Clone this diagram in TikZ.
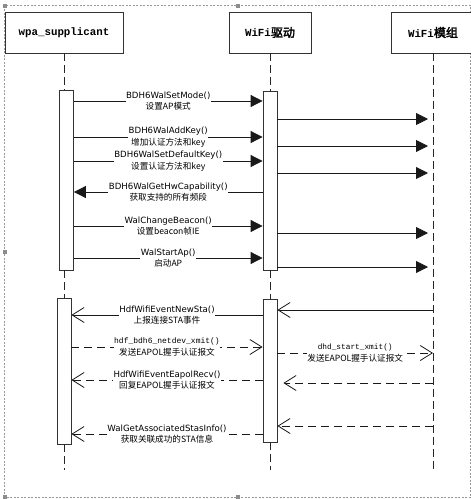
\documentclass[tikz,border=0pt]{standalone}
\usepackage{fontspec}
\setsansfont{DejaVu Sans}
\setmonofont{Liberation Mono}
\newfontfamily\cjk[AutoFakeBold=2.5]{Noto Sans CJK SC}
\usetikzlibrary{arrows.meta}

\begin{document}
\begin{tikzpicture}[x=1pt, y=-1pt,
  head/.style={draw=black!80, fill=white, line width=0.8pt, minimum height=41pt, inner sep=0pt,
    font=\fontsize{10.8}{12}\selectfont},
  act/.style={draw=black!80, fill=white, line width=0.8pt, minimum width=14pt, inner sep=0pt},
  life/.style={black!85, line width=0.9pt, dash pattern=on 8pt off 4pt},
  msg/.style={black!90, line width=0.8pt, -{Triangle[length=12pt,width=12pt]}},
  reply/.style={black!90, line width=0.8pt, -{Straight Barb[length=12pt,width=15pt]}},
  dash line/.style={dash pattern=on 8pt off 5pt},
  lbl/.style={fill=white, inner sep=0.5pt, align=center, text=black,
    font=\sffamily\fontsize{8.6}{11.5}\selectfont}]
\useasboundingbox (0,0) rectangle (471,499);
% Draw the frame round the diagram
\draw[black!40, line width=0.6pt, dash pattern=on 2pt off 1.5pt] (4.5,5.5) rectangle (470.5,497);
\foreach \x/\y in {5/5.5, 238/5.5, 5/252, 5/497, 238/497}
  \fill[black!45] (\x,\y) +(-2,-2) rectangle +(2,2);

% Draw the heads
\node[head, minimum width=118pt] (wpa) at (64,32.5) {\ttfamily\bfseries wpa\_supplicant};
\node[head, minimum width=82pt] (drv) at (270,32.5) {\ttfamily\bfseries WiFi{\cjk\bfseries\fontsize{12}{12}\selectfont 驱动}};
\node[head, minimum width=84pt] (mod) at (433,32.5) {\ttfamily\bfseries WiFi{\cjk\bfseries\fontsize{12}{12}\selectfont 模组}};

% Draw the activation boxes
\node[act, minimum height=180pt] (wa) at (66.5,180) {};
\node[act, minimum height=146pt] (wb) at (64,371) {};
\node[act, minimum height=179pt] (da) at (270,180.5) {};
\node[act, minimum height=143pt] (db) at (270,370.5) {};
\coordinate (wEnd) at (64,470);
\coordinate (dEnd) at (270,470);
\coordinate (mEnd) at (433,470);

% Draw the lifelines
\draw[life] (wpa.south) -- (wpa.south |- wa.north) (wa.south -| wb.north) -- (wb.north)
  (wb.south) -- (wEnd);
\draw[life] (drv.south) -- (da.north) (da.south) -- (db.north) (db.south) -- (dEnd);
\draw[life] (mod.south) -- (mEnd);

% Calls from wpa_supplicant to the driver
\foreach \y/\txt/\cn in {101/BDH6WalSetMode()/设置AP模式,
    137/BDH6WalAddKey()/增加认证方法和key,
    161/BDH6WalSetDefaultKey()/设置认证方法和key,
    226/WalChangeBeacon()/设置beacon帧IE,
    258/WalStartAp()/启动AP}
  \draw[msg] (wa.east |- 0,\y) -- node[lbl]{\txt\\{\cjk \cn}} (da.west |- 0,\y);
\draw[msg] (da.west |- 0,192) -- node[lbl]{BDH6WalGetHwCapability()\\{\cjk 获取支持的所有频段}}
  (wa.east |- 0,192);

% The driver passes each call on to the module
\foreach \y in {119,146,173,233,267}
  \draw[msg] (da.east |- 0,\y) -- ([xshift=-5pt]mEnd |- 0,\y);

% Events back from the module
\draw[reply] (mEnd |- 0,310) -- (db.east |- 0,310);
\draw[reply] (db.west |- 0,315) -- node[lbl]{HdfWifiEventNewSta()\\{\cjk 上报连接STA事件}}
  (wb.east |- 0,315);
\draw[reply, dash line] (wb.east |- 0,347) --
  node[lbl]{{\ttfamily\fontsize{8}{10}\selectfont hdf\_bdh6\_netdev\_xmit()}\\{\cjk 发送EAPOL握手认证报文}}
  (db.west |- 0,347);
\draw[reply, dash line] (db.east |- 0,353) --
  node[lbl]{{\ttfamily\fontsize{7.8}{10}\selectfont dhd\_start\_xmit()}\\{\cjk 发送EAPOL握手认证报文}}
  (mEnd |- 0,353);
\draw[reply, dash line] (db.west |- 0,380) --
  node[lbl]{HdfWifiEventEapolRecv()\\{\cjk 回复EAPOL握手认证报文}} (wb.east |- 0,380);
\draw[reply, dash line] (mEnd |- 0,383) -- ([xshift=6pt]db.east |- 0,383);
\draw[reply, dash line] (mEnd |- 0,426) -- (db.east |- 0,426);
\draw[reply, dash line] (db.west |- 0,434) --
  node[lbl]{WalGetAssociatedStasInfo()\\{\cjk 获取关联成功的STA信息}} (wb.east |- 0,434);

\end{tikzpicture}
\end{document}
